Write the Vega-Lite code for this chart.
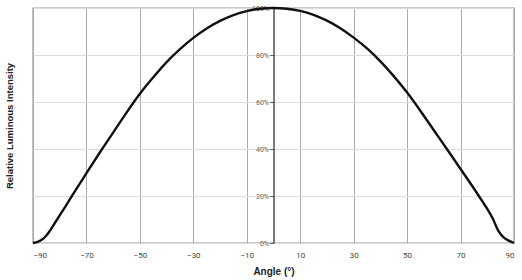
{
  "$schema": "https://vega.github.io/schema/vega-lite/v6.json",
  "width": 481,
  "height": 235,
  "autosize": {"type": "none"},
  "padding": {"left": 33, "top": 8, "right": 8, "bottom": 37},
  "background": "white",
  "config": {
    "view": {"stroke": "#333", "strokeWidth": 1.2},
    "axis": {"labelFont": "Roboto", "titleFont": "Liberation Sans"}
  },
  "data": {"values": [
    {"angle": -90, "intensity": 0},
    {"angle": -88, "intensity": 0.6},
    {"angle": -86, "intensity": 2},
    {"angle": -85, "intensity": 3.2},
    {"angle": -84, "intensity": 4.7},
    {"angle": -82, "intensity": 8.2},
    {"angle": -80, "intensity": 11.8},
    {"angle": -78, "intensity": 15.3},
    {"angle": -75, "intensity": 20.8},
    {"angle": -70, "intensity": 29.7},
    {"angle": -65, "intensity": 38.5},
    {"angle": -60, "intensity": 47},
    {"angle": -55, "intensity": 55.5},
    {"angle": -50, "intensity": 63.5},
    {"angle": -45, "intensity": 70.5},
    {"angle": -40, "intensity": 77},
    {"angle": -35, "intensity": 82.5},
    {"angle": -30, "intensity": 87.3},
    {"angle": -25, "intensity": 91.3},
    {"angle": -20, "intensity": 94.5},
    {"angle": -15, "intensity": 97},
    {"angle": -10, "intensity": 98.7},
    {"angle": -5, "intensity": 99.7},
    {"angle": 0, "intensity": 100},
    {"angle": 5, "intensity": 99.7},
    {"angle": 10, "intensity": 98.8},
    {"angle": 15, "intensity": 97.1},
    {"angle": 20, "intensity": 94.6},
    {"angle": 25, "intensity": 91.4},
    {"angle": 30, "intensity": 87.4},
    {"angle": 35, "intensity": 82.8},
    {"angle": 40, "intensity": 77.3},
    {"angle": 45, "intensity": 71},
    {"angle": 50, "intensity": 64},
    {"angle": 55, "intensity": 56.2},
    {"angle": 60, "intensity": 48},
    {"angle": 65, "intensity": 39.8},
    {"angle": 70, "intensity": 31.5},
    {"angle": 75, "intensity": 23.2},
    {"angle": 78, "intensity": 18},
    {"angle": 80, "intensity": 14.5},
    {"angle": 82, "intensity": 10.5},
    {"angle": 84, "intensity": 5.5},
    {"angle": 86, "intensity": 2.5},
    {"angle": 88, "intensity": 1},
    {"angle": 90, "intensity": 0}
  ]},
  "mark": {"type": "line", "color": "#111", "strokeWidth": 2.4, "interpolate": "monotone", "clip": false},
  "encoding": {
    "x": {
      "field": "angle", "type": "quantitative",
      "scale": {"domain": [-90, 90], "nice": false, "zero": false},
      "axis": {
        "values": [-90, -70, -50, -30, -10, 10, 30, 50, 70, 90],
        "title": "Angle (°)",
        "titleFontSize": 10, "titleFontWeight": "bold", "titleColor": "#222",
        "titlePadding": 7,
        "labelFontSize": 8, "labelColor": "#444", "labelPadding": 8,
        "ticks": false,
        "domainColor": "#ddd", "domainWidth": 1.2,
        "grid": true, "gridColor": "#aaa", "gridWidth": 1
      }
    },
    "y": {
      "field": "intensity", "type": "quantitative",
      "scale": {"domain": [0, 100], "nice": false},
      "axis": {
        "orient": "left",
        "offset": -240.5,
        "values": [0, 20, 40, 60, 80, 100],
        "labelExpr": "datum.value + '%'",
        "labelFontSize": 7, "labelColor": "#666", "labelPadding": 1,
        "tickSize": 4, "tickColor": "#666",
        "domainColor": "#222", "domainWidth": 1.2,
        "grid": true, "gridColor": "#ddd", "gridWidth": 1,
        "title": "Relative Luminous Intensity",
        "titleFontSize": 9.5, "titleFontWeight": "bold", "titleColor": "#222",
        "titleAngle": -90, "titleAlign": "center", "titleBaseline": "middle",
        "titleX": -264.5, "titleY": 117.5
      }
    }
  }
}
